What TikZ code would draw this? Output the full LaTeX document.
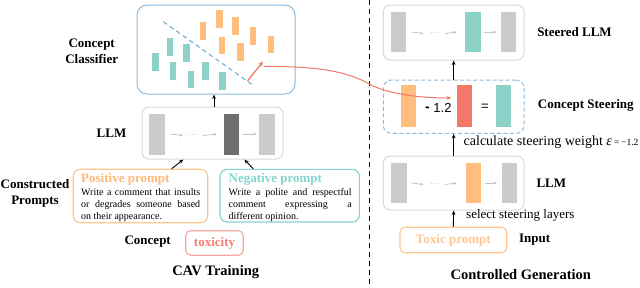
\documentclass[tikz,border=0pt]{standalone}
\usepackage{fontspec}
\setmainfont{Liberation Serif}
\newfontfamily\sansf{Liberation Sans}
\usetikzlibrary{arrows.meta}
\definecolor{clsblue}{HTML}{8CB9DC}
\definecolor{lnblue}{HTML}{7FB2DA}
\definecolor{orf}{HTML}{FFBE7D}
\definecolor{tealf}{HTML}{8ED1C9}
\definecolor{redf}{HTML}{F4776A}
\definecolor{grayf}{HTML}{CBCBCB}
\definecolor{darkf}{HTML}{6F6F6F}
\definecolor{boxgray}{HTML}{D9D9D9}
\definecolor{arrgray}{HTML}{C4C4C4}
\definecolor{posb}{HTML}{FFC58F}
\definecolor{post}{HTML}{FFB77A}
\definecolor{negb}{HTML}{86D4CE}
\definecolor{toxb}{HTML}{F5AAA1}
\definecolor{toxt}{HTML}{F47C6E}
\definecolor{inb}{HTML}{FFC58F}
\definecolor{int}{HTML}{FFC590}
\begin{document}
\begin{tikzpicture}[x=1pt,y=-1pt,
  lbl/.style={font=\fontsize{13}{16}\selectfont\bfseries, inner sep=0, align=center},
  ttl/.style={font=\fontsize{14.5}{17}\selectfont\bfseries, inner sep=0},
  dotr/.style={fill=#1, inner sep=0, minimum width=6.8pt, minimum height=17.5pt},
  barr/.style={fill=#1, inner sep=0, minimum width=15.5pt, minimum height=41pt},
  gbox/.style={draw=boxgray, line width=1pt, rounded corners=7pt, inner sep=0},
  blk/.style={-{Stealth[length=4.5pt,width=3.6pt]}, line width=0.9pt},
  garr/.style={draw=arrgray, line width=0.8pt, -{Stealth[length=3.5pt,width=3pt]}},
  gdots/.style={text=arrgray, font=\fontsize{10}{10}\selectfont, inner sep=0},
  body/.style={anchor=north west, text width=#1, align=justify, font=\fontsize{10}{12}\selectfont, inner sep=0}
]
\useasboundingbox (0,0) rectangle (640,287);

% ---------- Concept classifier ----------
\node[draw=clsblue, line width=1pt, rounded corners=10pt, minimum width=158pt, minimum height=89pt, inner sep=0] (cls) at (216,49.5) {};
\node[dotr=tealf] (t1) at (155.3,62) {};
\node[dotr=tealf] (t2) at (170,47) {};
\node[dotr=tealf] (t3) at (173,71.2) {};
\node[dotr=tealf] (t4) at (186.7,53) {};
\node[dotr=tealf] (t5) at (191,79.5) {};
\node[dotr=tealf] (t6) at (205.7,71.2) {};
\node[dotr=tealf] (t7) at (222.7,81) {};
\node[dotr=orf] (o1) at (203,31) {};
\node[dotr=orf] (o2) at (219.3,18.8) {};
\node[dotr=orf] (o3) at (222,45.5) {};
\node[dotr=orf] (o4) at (235.3,25.8) {};
\node[dotr=orf] (o5) at (240.3,52.2) {};
\node[dotr=orf] (o6) at (253,35.8) {};
\node[dotr=orf] (o7) at (271,44.5) {};
\coordinate (da) at (163.3,21.7);
\coordinate (db) at (251.7,84.3);
\draw[lnblue, line width=1.2pt, dash pattern=on 4.5pt off 3.5pt] (da) -- (db);
\coordinate (ra) at (247.5,81);
\coordinate (rb) at (263,61.5);
\draw[redf, line width=1.3pt, -{Stealth[length=5pt,width=4.5pt]}] (ra) -- (rb);
\node[lbl] (clslbl) at (91.7,51) {Concept\\Classifier};

% ---------- left LLM ----------
\node[gbox, minimum width=141pt, minimum height=52pt] (llm) at (212.5,133) {};
\node[barr=grayf] (g1) at (157,134) {};
\node[barr=darkf, minimum width=15pt] (dk) at (231.8,134) {};
\node[barr=grayf] (g3) at (267.2,134) {};
\node[gdots] (d1) at (193,135.5) {\dots};
\draw[garr] ([xshift=5pt]g1.east) -- ([xshift=-5pt]d1.west);
\draw[garr] ([xshift=5pt]d1.east) -- ([xshift=-7pt]dk.west);
\draw[garr] ([xshift=3pt]dk.east) -- ([xshift=-2.5pt]g3.west);
\node[lbl] (llmlbl) at (111.5,133) {LLM};
\draw[blk] ([xshift=1.5pt]llm.north) -- ([xshift=-2pt]cls.south);

% ---------- prompts ----------
\node[draw=posb, line width=1.2pt, rounded corners=7pt, minimum width=134.4pt, minimum height=53.4pt, inner sep=0] (pos) at (140.5,196) {};
\node[anchor=west, font=\fontsize{13}{15}\selectfont\bfseries, text=post, inner sep=0] (postl) at (81,179) {Positive prompt};
\node[body=119pt] (posbd) at (81,188) {Write a comment that insults\linebreak or degrades someone based\linebreak on their appearance.};
\node[draw=negb, line width=1.2pt, rounded corners=7pt, minimum width=139.3pt, minimum height=52.7pt, inner sep=0] (neg) at (289.7,195.7) {};
\node[anchor=west, font=\fontsize{13}{15}\selectfont\bfseries, text=negb, inner sep=0] (negtl) at (228.5,179) {Negative prompt};
\node[body=123pt] (negbd) at (228.5,188) {Write a polite and respectful\linebreak comment expressing a\linebreak different opinion.};
\draw[blk] ([xshift=31.2pt]pos.north) -- ([xshift=-29.2pt]llm.south);
\draw[blk] ([xshift=-36.4pt]neg.north) -- ([xshift=31.8pt]llm.south);
\node[lbl] (cplbl) at (35,193.7) {Constructed\\Prompts};

% ---------- concept ----------
\node[lbl] (conlbl) at (147.7,242) {Concept};
\node[draw=toxb, line width=1.2pt, rounded corners=5pt, minimum width=57.6pt, minimum height=24.6pt, inner sep=0, text=toxt, font=\fontsize{13}{15}\selectfont\bfseries] (tox) at (214.5,243) {toxicity};
\node[ttl] (cav) at (215.7,272) {CAV Training};

% ---------- divider ----------
\coordinate (vt) at (369.3,0);
\coordinate (vb) at (369.3,287);
\draw[black, line width=1.4pt, dash pattern=on 5pt off 4pt] (vt) -- (vb);

% ---------- steered LLM ----------
\node[gbox, minimum width=140.7pt, minimum height=55pt] (sllm) at (453.7,32.5) {};
\node[barr=grayf, minimum height=40.6pt] (s1) at (398.3,32) {};
\node[barr=tealf, minimum width=16pt, minimum height=40.6pt] (s2) at (473,32) {};
\node[barr=grayf, minimum height=40.6pt] (s3) at (508.3,32) {};
\node[gdots] (d2) at (435,33.5) {\dots};
\draw[garr] ([xshift=5.5pt]s1.east) -- ([xshift=-6.5pt]d2.west);
\draw[garr] ([xshift=5pt]d2.east) -- ([xshift=-8pt]s2.west);
\draw[garr] ([xshift=2.5pt]s2.east) -- ([xshift=-4pt]s3.west);
\node[lbl] (sllmlbl) at (574.5,31.7) {Steered LLM};

% ---------- concept steering ----------
\node[draw=clsblue, line width=1pt, dash pattern=on 4pt off 2.5pt, rounded corners=8pt, minimum width=140.7pt, minimum height=53.3pt, inner sep=0] (steer) at (453.7,106.7) {};
\node[barr=orf, minimum height=41.7pt] (c1) at (408.3,105.8) {};
\node[barr=redf, minimum width=15pt, minimum height=41.7pt] (c2) at (464.8,105.8) {};
\node[barr=tealf, minimum height=41.7pt] (c3) at (503.3,105.8) {};
\node[font=\sansf\bfseries\fontsize{14}{14}\selectfont, inner sep=0] (minus) at (427.5,108.8) {-};
\node[font=\sansf\fontsize{13}{13}\selectfont, inner sep=0] (wt) at (442.5,107.5) {1.2};
\node[font=\sansf\fontsize{13}{13}\selectfont, inner sep=0] (eq) at (485,107) {=};
\node[lbl] (steerlbl) at (585.8,105.7) {Concept Steering};
\draw[blk] (steer.north) -- (sllm.south);

% ---------- right LLM ----------
\node[gbox, minimum width=140.7pt, minimum height=54pt] (rllm) at (453.7,183) {};
\node[barr=grayf, minimum height=40.6pt] (r1) at (398.8,183) {};
\node[barr=orf, minimum height=40.6pt] (r2) at (473.3,183) {};
\node[barr=grayf, minimum width=15pt, minimum height=40.6pt] (r3) at (509.2,183) {};
\node[gdots] (d3) at (435,184.5) {\dots};
\draw[garr] ([xshift=5pt]r1.east) -- ([xshift=-6.5pt]d3.west);
\draw[garr] ([xshift=5pt]d3.east) -- ([xshift=-8.5pt]r2.west);
\draw[garr] ([xshift=3.5pt]r2.east) -- ([xshift=-4.5pt]r3.west);
\node[lbl] (rllmlbl) at (551.3,183) {LLM};
\draw[blk] (rllm.north) -- (steer.south);
\node[anchor=west, inner sep=0, font=\fontsize{14}{16}\selectfont] (calc) at (463.5,141.7) {calculate steering weight {\itshape ε}\,{\fontsize{9.5}{9.5}\selectfont =\,−1.2}};

% ---------- input ----------
\node[draw=inb, line width=1.2pt, rounded corners=5pt, minimum width=106.7pt, minimum height=25.4pt, inner sep=0, text=int, font=\fontsize{13}{15}\selectfont\bfseries] (toxp) at (453.3,240) {Toxic prompt};
\node[lbl] (inlbl) at (534.7,240) {Input};
\draw[blk] (toxp.north) -- (rllm.south);
\node[anchor=west, inner sep=0, font=\fontsize{13}{15}\selectfont] (sel) at (466,215) {select steering layers};
\node[ttl] (cg) at (520.8,275) {Controlled Generation};

% ---------- red connector ----------
\coordinate (cs) at (263.5,66.5);
\draw[redf, line width=1pt, -{Stealth[length=5pt,width=4pt]}] (cs) .. controls (320,66) and (348,72) .. (369.3,84) .. controls (385,92.8) and (415,98) .. ([xshift=-5.6pt,yshift=7.8pt]c2.west);
\end{tikzpicture}
\end{document}
